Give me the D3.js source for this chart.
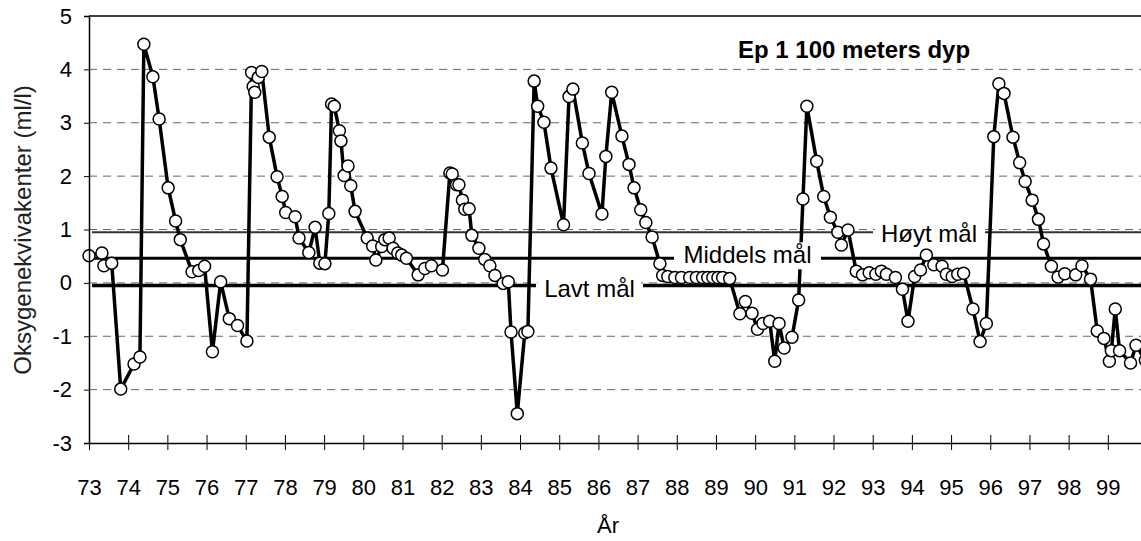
<!DOCTYPE html>
<html>
<head>
<meta charset="utf-8">
<script src="https://cdn.jsdelivr.net/npm/d3@7"></script>
<style>
    body { margin: 0; background: #fff; }
    svg text { font-family: 'Liberation Sans', Arial, sans-serif; }
</style>
</head>
<body>
<svg class="oxy" width="1141" height="541"></svg>
<script>
// measurement dates (decimal year, 73 = 1973) and oxygen equivalents (ml/l)
const years = [
    73.00, 73.33, 73.38, 73.58, 73.81, 74.15, 74.30, 74.40, 74.63, 74.79,
    75.02, 75.21, 75.33, 75.63, 75.80, 75.95, 76.15, 76.36, 76.58, 76.79,
    77.03, 77.15, 77.19, 77.23, 77.32, 77.41, 77.60, 77.80, 77.93, 78.02,
    78.26, 78.36, 78.61, 78.77, 78.89, 79.02, 79.12, 79.19, 79.26, 79.39,
    79.43, 79.51, 79.61, 79.68, 79.79, 80.10, 80.24, 80.32, 80.47, 80.55,
    80.66, 80.76, 80.88, 80.98, 81.10, 81.40, 81.57, 81.74, 82.02, 82.21,
    82.27, 82.38, 82.44, 82.53, 82.59, 82.70, 82.77, 82.95, 83.10, 83.23,
    83.36, 83.57, 83.70, 83.77, 83.93, 84.12, 84.20, 84.36, 84.45, 84.61,
    84.79, 85.11, 85.25, 85.35, 85.59, 85.76, 86.09, 86.19, 86.34, 86.60,
    86.78, 86.91, 87.08, 87.21, 87.37, 87.57, 87.64, 87.77, 87.95, 88.12,
    88.33, 88.50, 88.66, 88.79, 88.92, 89.05, 89.17, 89.35, 89.61, 89.75,
    89.92, 90.06, 90.20, 90.37, 90.50, 90.61, 90.74, 90.94, 91.11, 91.22,
    91.32, 91.57, 91.75, 91.92, 92.11, 92.20, 92.37, 92.58, 92.74, 92.91,
    93.08, 93.22, 93.35, 93.58, 93.76, 93.90, 94.07, 94.22, 94.37, 94.56,
    94.77, 94.88, 95.03, 95.17, 95.32, 95.56, 95.74, 95.90, 96.09, 96.22,
    96.35, 96.58, 96.75, 96.89, 97.07, 97.23, 97.36, 97.56, 97.73, 97.90,
    98.18, 98.34, 98.56, 98.73, 98.90, 99.04, 99.09, 99.19, 99.30, 99.58,
    99.72, 99.96
];
const oxygen = [
    0.51, 0.56, 0.32, 0.37, -1.99, -1.52, -1.39, 4.47, 3.86, 3.07,
    1.78, 1.16, 0.81, 0.21, 0.23, 0.31, -1.29, 0.02, -0.67, -0.80,
    -1.09, 3.94, 3.68, 3.57, 3.85, 3.96, 2.73, 1.99, 1.62, 1.32,
    1.24, 0.84, 0.57, 1.04, 0.37, 0.36, 1.30, 3.35, 3.31, 2.85,
    2.66, 2.01, 2.19, 1.82, 1.34, 0.84, 0.69, 0.43, 0.68, 0.81,
    0.84, 0.65, 0.56, 0.52, 0.46, 0.15, 0.27, 0.32, 0.24, 2.06,
    2.04, 1.84, 1.84, 1.55, 1.38, 1.39, 0.89, 0.65, 0.44, 0.32,
    0.14, -0.01, 0.02, -0.92, -2.45, -0.94, -0.91, 3.78, 3.31, 3.01,
    2.15, 1.09, 3.49, 3.63, 2.62, 2.05, 1.29, 2.37, 3.57, 2.75,
    2.22, 1.78, 1.37, 1.13, 0.86, 0.36, 0.14, 0.12, 0.10, 0.10,
    0.10, 0.10, 0.10, 0.10, 0.10, 0.10, 0.10, 0.08, -0.58, -0.35,
    -0.57, -0.87, -0.76, -0.72, -1.47, -0.76, -1.22, -1.02, -0.32, 1.57,
    3.31, 2.28, 1.62, 1.23, 0.95, 0.71, 0.99, 0.22, 0.15, 0.19,
    0.16, 0.22, 0.16, 0.10, -0.12, -0.72, 0.12, 0.24, 0.52, 0.34,
    0.31, 0.16, 0.12, 0.16, 0.18, -0.49, -1.10, -0.76, 2.74, 3.73,
    3.55, 2.73, 2.25, 1.90, 1.55, 1.19, 0.73, 0.31, 0.11, 0.17,
    0.15, 0.32, 0.07, -0.90, -1.04, -1.47, -1.27, -0.49, -1.27, -1.50,
    -1.17, -1.45
];

// target levels
const goalNames = ['Høyt mål', 'Middels mål', 'Lavt mål'];
const goalValues = [0.95, 0.46, -0.05];

const yearTicks = d3.range(73, 100);
const yTicks = [-3, -2, -1, 0, 1, 2, 3, 4, 5];

const svg = d3.select('svg.oxy'),
    margin = { top: 16, left: 89 },
    width = 1058,
    height = 427;

const x = d3.scaleLinear().domain([73, 100]).range([0, width]);
const y = d3.scaleLinear().domain([-3, 5]).range([height, 0]);

const g = svg.append('g')
    .attr('transform', 'translate(' + margin.left + ',' + margin.top + ')');

// dashed grid
g.selectAll('.grid')
    .data(yTicks.filter((d) => d > -3 && d < 5))
    .enter().append('line')
    .attr('x1', 0)
    .attr('x2', width)
    .attr('y1', (d) => y(d))
    .attr('y2', (d) => y(d))
    .attr('stroke', '#666')
    .attr('stroke-width', 1)
    .attr('stroke-dasharray', '8,6');

// top frame
g.append('line')
    .attr('x1', 0).attr('x2', width)
    .attr('y1', 0).attr('y2', 0)
    .attr('stroke', '#000')
    .attr('stroke-width', 1.3);

// goal lines, broken where the label sits
const goalWidth = [2, 3, 3.5];
const goalGap = [[873, 985], [674, 821], [536, 643]];
const labelDy = [10, 5, 11];
goalValues.forEach((v, i) => {
    const segs = [[92 - margin.left, goalGap[i][0] - margin.left], [goalGap[i][1] - margin.left, width]];
    segs.forEach((s) => {
        g.append('line')
            .attr('x1', s[0]).attr('x2', s[1])
            .attr('y1', y(v)).attr('y2', y(v))
            .attr('stroke', i === 0 ? '#333' : '#000')
            .attr('stroke-width', goalWidth[i]);
    });
});

const points = years.map((d, i) => ({ year: d, value: oxygen[i] }));

const line = d3.line()
    .x((d) => x(d.year))
    .y((d) => y(d.value));

g.append('path')
    .datum(points)
    .attr('fill', 'none')
    .attr('stroke', '#000')
    .attr('stroke-width', 3.5)
    .attr('stroke-linejoin', 'round')
    .attr('d', line);

g.selectAll('.dot')
    .data(points)
    .enter().append('circle')
    .attr('class', 'dot')
    .attr('cx', (d) => x(d.year))
    .attr('cy', (d) => y(d.value))
    .attr('r', 6)
    .attr('fill', '#fff')
    .attr('stroke', '#000')
    .attr('stroke-width', 1.5);

// goal labels sit on white boxes over the data
goalNames.forEach((name, i) => {
    const x0 = goalGap[i][0] - margin.left, x1 = goalGap[i][1] - margin.left;
    const yy = y(goalValues[i]) + labelDy[i];
    g.append('rect')
        .attr('x', x0 + 2).attr('width', x1 - x0 - 4)
        .attr('y', yy - 21).attr('height', 27)
        .attr('fill', '#fff');
    g.append('text')
        .attr('x', (x0 + x1) / 2)
        .attr('y', yy)
        .attr('text-anchor', 'middle')
        .attr('font-size', 24)
        .text(name);
});

// axes
g.append('g')
    .attr('transform', 'translate(0,' + height + ')')
    .call(d3.axisBottom(x).tickValues(yearTicks).tickSize(0).tickFormat(''))
    .call((a) => a.select('.domain').attr('stroke-width', 1.5))
    .call((a) => a.selectAll('.tick').append('line')
        .attr('y1', -8).attr('y2', 7).attr('stroke', '#000'))
    .call((a) => a.selectAll('.tick').append('text')
        .attr('y', 52).attr('fill', '#000')
        .attr('font-size', 22)
        .text((d) => d));

g.append('g')
    .call(d3.axisLeft(y).tickValues(yTicks).tickSize(5).tickPadding(12)
        .tickFormat((d) => String(d)))
    .call((a) => a.select('.domain').attr('stroke-width', 1.5))
    .call((a) => a.selectAll('.tick text').attr('font-size', 22).attr('fill', '#000'));

svg.append('text')
    .attr('text-anchor', 'middle')
    .attr('transform', 'translate(31,230)rotate(-90)')
    .attr('font-size', 24)
    .attr('fill', '#222')
    .text('Oksygenekvivakenter (ml/l)');

svg.append('text')
    .attr('text-anchor', 'middle')
    .attr('x', 608)
    .attr('y', 533)
    .attr('font-size', 22)
    .text('År');

svg.append('text')
    .attr('x', 738)
    .attr('y', 58)
    .attr('font-size', 24)
    .attr('font-weight', 'bold')
    .text('Ep 1 100 meters dyp');
</script>
</body>
</html>
